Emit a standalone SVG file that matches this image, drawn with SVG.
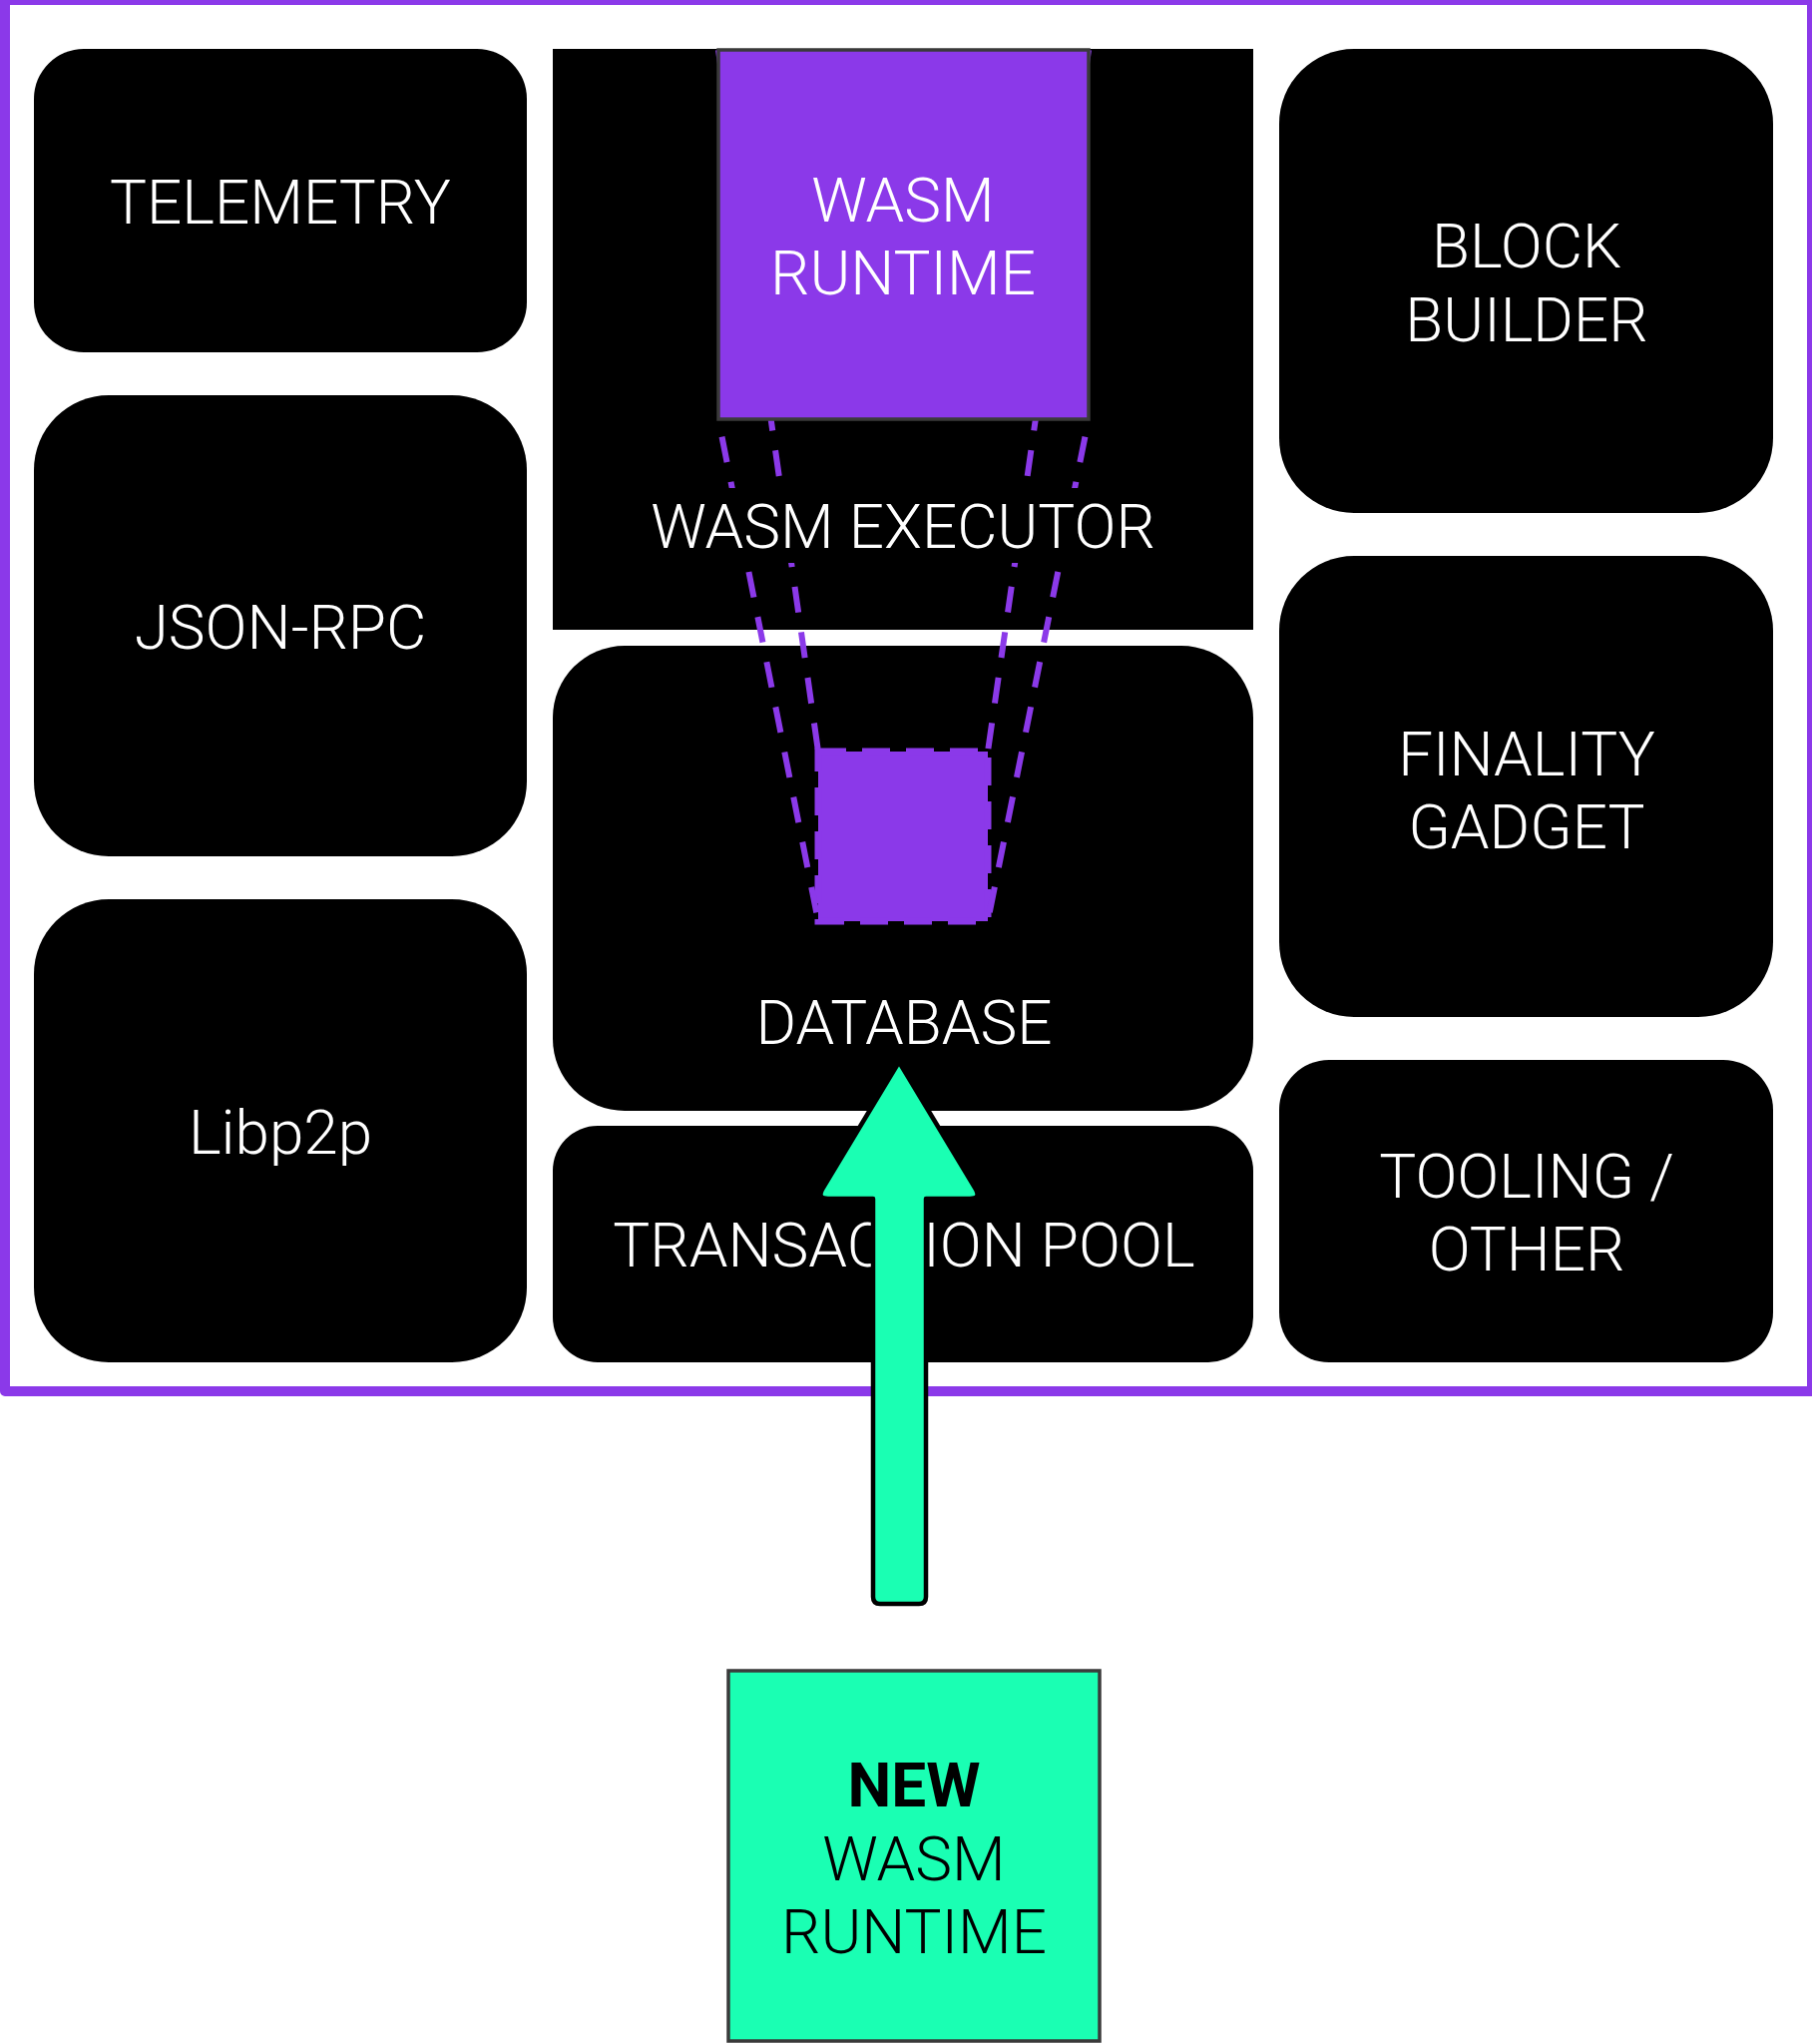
<svg xmlns="http://www.w3.org/2000/svg" width="1816" height="2048" viewBox="0 0 1816 2048">
<style>
.box{fill:#000}
.lbl{font-family:Roboto,"Liberation Sans",sans-serif;font-weight:300;font-size:62px;fill:#fff;text-anchor:middle}
.dk{fill:#000}
.dash{stroke:#8B39E9;stroke-width:6;stroke-dasharray:26 20;fill:none}
</style>
<rect x="0" y="0" width="1816" height="2048" fill="#fff"/>
<g id="frame">
<rect x="5" y="0" width="1811" height="1394" fill="none" stroke="#8B39E9" stroke-width="10" stroke-linejoin="round"/>
</g>
<g id="telemetry">
<rect class="box" x="34" y="49" width="494" height="304" rx="50"/>
<text class="lbl" x="281" y="224">TELEMETRY</text>
</g>
<g id="json-rpc">
<rect class="box" x="34" y="396" width="494" height="462" rx="75"/>
<text class="lbl" x="281" y="650">JSON-RPC</text>
</g>
<g id="libp2p">
<rect class="box" x="34" y="901" width="494" height="464" rx="75"/>
<text class="lbl" x="281" y="1156">Libp2p</text>
</g>
<g id="wasm-executor">
<rect class="box" x="554" y="49" width="702" height="582"/>
</g>
<g id="database">
<rect class="box" x="554" y="647" width="702" height="466" rx="72"/>
<rect x="820" y="753" width="170" height="170" fill="#8B39E9" stroke="#8B39E9" stroke-width="7" stroke-dasharray="28 16"/>
<text class="lbl" x="906" y="1046">DATABASE</text>
</g>
<g id="transaction-pool">
<rect class="box" x="554" y="1128" width="702" height="237" rx="45"/>
<text class="lbl" x="906" y="1269">TRANSACTION POOL</text>
</g>
<g id="block-builder">
<rect class="box" x="1282" y="49" width="495" height="465" rx="75"/>
<text class="lbl" x="1530" y="268">BLOCK</text>
<text class="lbl" x="1530" y="342">BUILDER</text>
</g>
<g id="finality-gadget">
<rect class="box" x="1282" y="557" width="495" height="462" rx="75"/>
<text class="lbl" x="1530" y="777">FINALITY</text>
<text class="lbl" x="1530" y="850">GADGET</text>
</g>
<g id="tooling">
<rect class="box" x="1282" y="1062" width="495" height="303" rx="50"/>
<text class="lbl" x="1530" y="1200">TOOLING /</text>
<text class="lbl" x="1530" y="1273">OTHER</text>
</g>
<g id="connectors">
<line class="dash" x1="720" y1="50" x2="820" y2="753" stroke-dashoffset="8.7"/>
<line class="dash" x1="720" y1="420" x2="820" y2="923" stroke-dashoffset="28"/>
<line class="dash" x1="1091" y1="50" x2="990" y2="753" stroke-dashoffset="8.7"/>
<line class="dash" x1="1091" y1="420" x2="990" y2="923" stroke-dashoffset="28"/>
<path d="M901,1064 L977,1190 Q984,1201 972,1201 L928,1201 L928,1600 Q928,1607 921,1607 L882,1607 Q875,1607 875,1600 L875,1201 L830,1201 Q818,1201 825,1190 Z" fill="#1AFFB3" stroke="#000" stroke-width="4.5" stroke-linejoin="round"/>
</g>
<g id="wasm-executor-label">
<rect class="dk" x="650" y="489" width="510" height="75"/>
<text class="lbl" x="905" y="549">WASM EXECUTOR</text>
</g>
<g id="wasm-runtime">
<rect x="720" y="50" width="371" height="370" fill="#8B39E9" stroke="#3a3a3a" stroke-width="3.5"/>
<text class="lbl" x="905" y="222">WASM</text>
<text class="lbl" x="905" y="295">RUNTIME</text>
</g>
<g id="new-wasm-runtime">
<rect x="730" y="1674" width="372" height="371" fill="#1AFFB3" stroke="#3a3a3a" stroke-width="3.5"/>
<text class="lbl" x="916" y="1810" style="fill:#000;font-weight:700">NEW</text>
<text class="lbl" x="916" y="1884" style="fill:#000">WASM</text>
<text class="lbl" x="916" y="1957" style="fill:#000">RUNTIME</text>
</g>
</svg>
